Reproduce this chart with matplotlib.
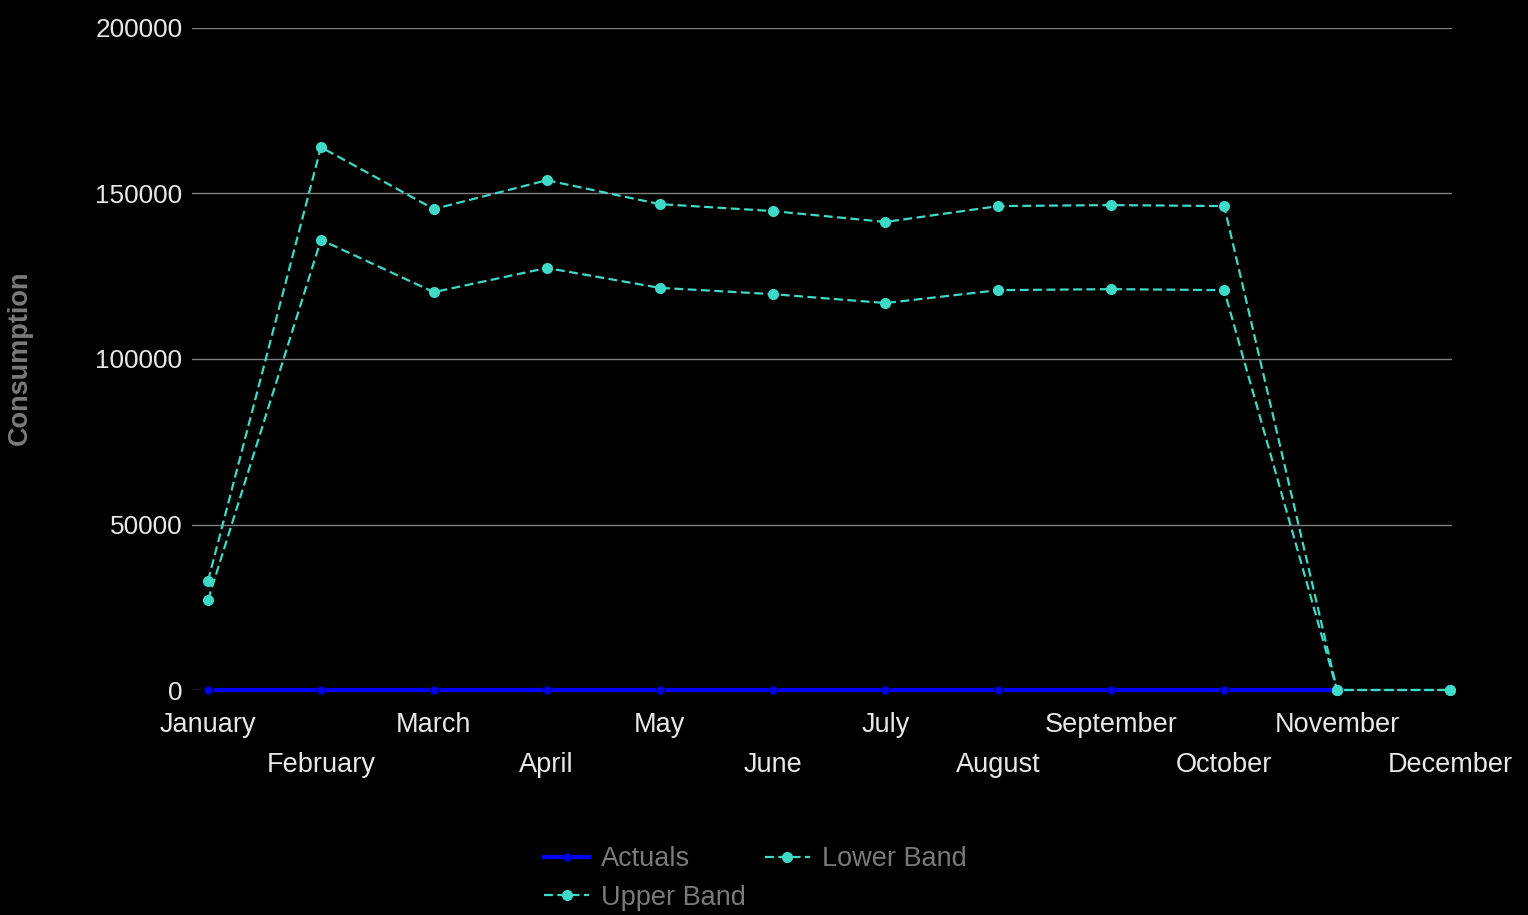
import numpy as np
import matplotlib.pyplot as plt

months = ['January', 'February', 'March', 'April', 'May', 'June', 'July',
          'August', 'September', 'October', 'November', 'December']
actuals = [0, 0, 0, 0, 0, 0, 0, 0, 0, 0, 0, np.nan]
upper_band = [33000, 164000, 145300, 154000, 146800, 144700, 141400,
              146200, 146500, 146200, 0, 0]
lower_band = [27200, 136000, 120200, 127500, 121500, 119600, 116900,
              120800, 121100, 120800, 0, 0]

plt.rcParams['font.family'] = ['Liberation Sans', 'DejaVu Sans']

fig = plt.figure(figsize=(15.28, 9.15), dpi=100, facecolor='black')
ax = fig.add_axes([192 / 1528, 1 - 690 / 915, (1452 - 192) / 1528, (690 - 28) / 915])
ax.set_facecolor('black')

x = np.arange(len(months))
turq = '#3fd9c8'

h_act, = ax.plot(x, actuals, color='#0000ff', lw=3, marker='o', ms=6,
                 mec='#000060', mew=1, label='Actuals', zorder=3, clip_on=False)
h_low, = ax.plot(x, lower_band, color=turq, lw=1.6, ls=(0, (4, 2)), marker='o',
                 ms=7, label='Lower Band', zorder=4, clip_on=False)
h_up, = ax.plot(x, upper_band, color=turq, lw=1.6, ls=(0, (4, 2)), marker='o',
                ms=7, label='Upper Band', zorder=4, clip_on=False)

ax.set_ylim(0, 200000)
ax.set_xlim(-0.142, 11.018)
ax.set_yticks([0, 50000, 100000, 150000, 200000])
ax.yaxis.grid(True, color='#7f7f7f', lw=1)
ax.set_axisbelow(True)
for s in ax.spines.values():
    s.set_visible(False)

ax.set_xticks(x[::2], months[::2])
ax.set_xticks(x[1::2], months[1::2], minor=True)
ax.tick_params(axis='x', which='major', length=0, pad=16, labelsize=19.5, labelcolor='#e8e8e8')
ax.tick_params(axis='x', which='minor', length=0, pad=45, labelsize=19.5, labelcolor='#e8e8e8')
ax.tick_params(axis='y', length=0, pad=7, labelsize=18.8, labelcolor='#e8e8e8')

fig.text(20 / 1528, 1 - 358 / 915, 'Consumption', rotation=90, ha='center', va='center',
         fontsize=19.5, fontweight='bold', color='#7a7a7a')

leg = fig.legend([h_act, h_up, h_low], ['Actuals', 'Upper Band', 'Lower Band'],
                 ncol=2, loc='upper left', bbox_to_anchor=(520 / 1528, 1 - 822 / 915),
                 frameon=False, fontsize=19.5, labelcolor='#7a7a7a',
                 handlelength=1.65, columnspacing=0.7, labelspacing=0.45, handletextpad=0.45)

fig.savefig('out.png', dpi=100, facecolor='black')
